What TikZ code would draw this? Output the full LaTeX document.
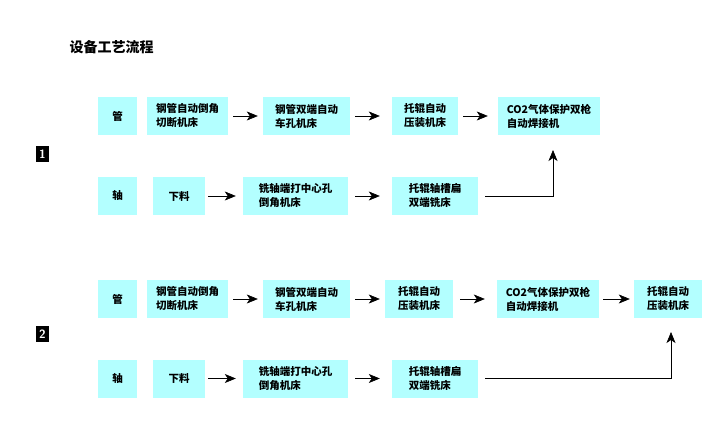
\documentclass[tikz,border=0pt]{standalone}
\usepackage{fontspec}
\newfontfamily\cjk{Noto Sans CJK SC}
\usepackage{tikz}
\usetikzlibrary{arrows.meta,calc}
\definecolor{boxcyan}{RGB}{179,255,255}

\begin{document}
\begin{tikzpicture}[x=1pt,y=-1pt,
    box/.style={fill=boxcyan, minimum height=38pt, inner sep=2pt, align=left,
      font=\cjk\bfseries\fontsize{10.5}{14}\selectfont},
    ed/.style={-{Stealth[length=11pt,width=9pt,inset=3pt]}, semithick, shorten <=5pt, shorten >=5pt},
    tag/.style={fill=black, text=white, minimum width=13pt, minimum height=16pt,
      inner sep=0pt, font=\sffamily\bfseries\fontsize{12}{12}\selectfont},
  ]
  \useasboundingbox (0,0) rectangle (728,441);
  \node[anchor=west, font=\cjk\bfseries\fontsize{14}{14}\selectfont] (title) at (66,47) {设备工艺流程};

  % group 1
  \node[tag] (n1) at (42.5,154) {1};
  \node[box, minimum width=39pt]  (g1) at (117.5,116) {管};
  \node[box, minimum width=81pt]  (a1) at (187.5,116) {钢管自动倒角\\切断机床};
  \node[box, minimum width=87pt]  (b1) at (306.5,116) {钢管双端自动\\车孔机床};
  \node[box, minimum width=66pt]  (c1) at (425,116)   {托辊自动\\压装机床};
  \node[box, minimum width=102pt] (d1) at (549,116)   {CO2气体保护双枪\\自动焊接机};
  \node[box, minimum width=39pt]  (z1) at (117.5,196) {轴};
  \node[box, minimum width=52pt]  (x1) at (179,196)   {下料};
  \node[box, minimum width=105pt] (e1) at (295.5,196) {铣轴端打中心孔\\倒角机床};
  \node[box, minimum width=86pt]  (f1) at (435,196)   {托辊轴槽扁\\双端铣床};
  \coordinate (t1) at (553,150);
  \draw[ed] (a1) -- (b1);
  \draw[ed, shorten >=12pt] (b1) -- (c1);
  \draw[ed, shorten >=10pt] (c1) -- (d1);
  \draw[ed, shorten <=3pt, shorten >=7pt] (x1) -- (e1);
  \draw[ed, shorten <=7pt, shorten >=12pt] (e1) -- (f1);
  \draw[ed, shorten <=7pt, shorten >=0pt] (f1.east) -| (t1);

  % group 2
  \node[tag] (n2) at (42.5,334) {2};
  \node[box, minimum width=39pt]  (g2) at (117.5,299) {管};
  \node[box, minimum width=81pt]  (a2) at (187.5,299) {钢管自动倒角\\切断机床};
  \node[box, minimum width=87pt]  (b2) at (306.5,299) {钢管双端自动\\车孔机床};
  \node[box, minimum width=68pt]  (c2) at (419,299)   {托辊自动\\压装机床};
  \node[box, minimum width=102pt] (d2) at (548,299)   {CO2气体保护双枪\\自动焊接机};
  \node[box, minimum width=68pt]  (h2) at (668,299)   {托辊自动\\压装机床};
  \node[box, minimum width=39pt]  (z2) at (117.5,378.5) {轴};
  \node[box, minimum width=52pt]  (x2) at (179,378.5)   {下料};
  \node[box, minimum width=105pt] (e2) at (295.5,378.5) {铣轴端打中心孔\\倒角机床};
  \node[box, minimum width=86pt]  (f2) at (435,378.5)   {托辊轴槽扁\\双端铣床};
  \coordinate (t2) at (671,332);
  \draw[ed] (a2) -- (b2);
  \draw[ed] (b2) -- (c2);
  \draw[ed, shorten <=7pt, shorten >=12pt] (c2) -- (d2);
  \draw[ed, shorten <=4pt, shorten >=4pt] (d2) -- (h2);
  \draw[ed, shorten <=3pt, shorten >=7pt] (x2) -- (e2);
  \draw[ed, shorten <=7pt, shorten >=12pt] (e2) -- (f2);
  \draw[ed, shorten <=7pt, shorten >=0pt] (f2.east) -| (t2);
\end{tikzpicture}
\end{document}
